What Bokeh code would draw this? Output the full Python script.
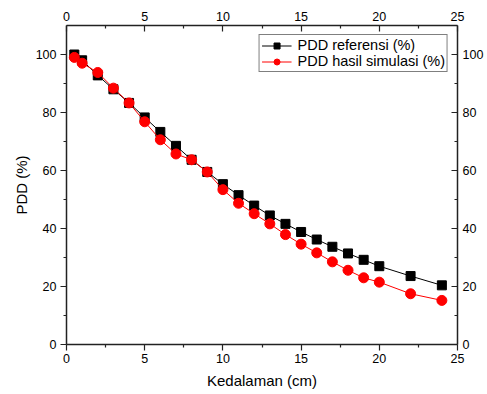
from bokeh.plotting import figure
from bokeh.models import LinearAxis, Range1d, FixedTicker, Legend, LegendItem
from bokeh.embed import file_html
from bokeh.resources import INLINE

# Data
depth = [0.5, 1, 2, 3, 4, 5, 6, 7, 8, 9, 10, 11, 12, 13, 14, 15, 16, 17, 18, 19, 20, 22, 24]
pdd_ref = [100, 98, 92.8, 88, 83.3, 78.3, 73.3, 68.5, 63.7, 59.5, 55.3, 51.5, 47.9, 44.5,
           41.6, 38.8, 36.2, 33.7, 31.4, 29.2, 27.0, 23.6, 20.4]
pdd_sim = [99, 97, 93.8, 88.4, 83.3, 76.8, 70.6, 65.7, 63.7, 59.5, 53.4, 48.7, 45.1, 41.6,
           37.9, 34.6, 31.6, 28.5, 25.6, 23.0, 21.5, 17.5, 15.2]
x_ticks = [0, 5, 10, 15, 20, 25]
x_minor = [2.5, 7.5, 12.5, 17.5, 22.5]
y_ticks = [0, 20, 40, 60, 80, 100]
y_minor = [10, 30, 50, 70, 90]
label_ref = "PDD referensi (%)"
label_sim = "PDD hasil simulasi (%)"

FONT = "Liberation Sans"
AXC = "#222222"

p = figure(frame_width=391, frame_height=319, output_backend="svg", toolbar_location=None,
           x_range=Range1d(0, 25), y_range=Range1d(0, 110),
           min_border_left=66, min_border_right=30, min_border_top=25, min_border_bottom=50)
p.xgrid.visible = False
p.ygrid.visible = False
p.outline_line_color = None
p.background_fill_color = "white"
p.border_fill_color = "white"

bottom = p.below[0]
left = p.left[0]
right = LinearAxis()
top = LinearAxis()
p.add_layout(right, "right")
p.add_layout(top, "above")

for ax in [bottom, top]:
    ax.ticker = FixedTicker(ticks=x_ticks, minor_ticks=x_minor)
for ax in [left, right]:
    ax.ticker = FixedTicker(ticks=y_ticks, minor_ticks=y_minor)

for ax in [bottom, top, left, right]:
    ax.axis_line_color = AXC
    ax.axis_line_width = 1.5
    ax.major_tick_line_color = AXC
    ax.minor_tick_line_color = AXC
    ax.major_tick_line_width = 1.2
    ax.minor_tick_line_width = 1.2
    ax.major_label_text_font = FONT
    ax.major_label_text_font_size = "12.5px"
    ax.major_label_text_color = "black"
    ax.axis_label_text_font = FONT
    ax.axis_label_text_font_size = "15px"
    ax.axis_label_text_font_style = "normal"
    ax.axis_label_text_color = "black"

# outward ticks on left/bottom, inward on top/right
for ax in [bottom, left]:
    ax.major_tick_out = 6
    ax.major_tick_in = 0
    ax.minor_tick_out = 3
    ax.minor_tick_in = 0
for ax in [top, right]:
    ax.major_tick_out = 0
    ax.major_tick_in = 6
    ax.minor_tick_out = 0
    ax.minor_tick_in = 3

bottom.major_label_standoff = 3
top.major_label_standoff = 5
left.major_label_standoff = 4
right.major_label_standoff = 5

bottom.axis_label = "Kedalaman (cm)"
bottom.axis_label_standoff = 6
left.axis_label = "PDD (%)"
left.axis_label_standoff = 3

l1 = p.line(depth, pdd_ref, line_color="black", line_width=1)
s1 = p.scatter(depth, pdd_ref, marker="square", size=9, fill_color="black", line_color="black")
l2 = p.line(depth, pdd_sim, line_color="#ff0000", line_width=1)
s2 = p.scatter(depth, pdd_sim, marker="circle", size=10, fill_color="#ff0000", line_color="#ff0000")

legend = Legend(items=[LegendItem(label=label_ref, renderers=[l1, s1]),
                       LegendItem(label=label_sim, renderers=[l2, s2])],
                location="top_right")
legend.margin = 9
legend.padding = 2
legend.spacing = 0
legend.border_line_color = "black"
legend.border_line_width = 1.2
legend.background_fill_color = "white"
legend.background_fill_alpha = 1
legend.label_text_font = FONT
legend.label_text_font_size = "14.5px"
legend.label_text_color = "black"
legend.label_standoff = 6
legend.glyph_width = 30
legend.glyph_height = 15
legend.label_height = 15
p.add_layout(legend, "center")

open("out.html", "w").write(file_html(p, INLINE))
